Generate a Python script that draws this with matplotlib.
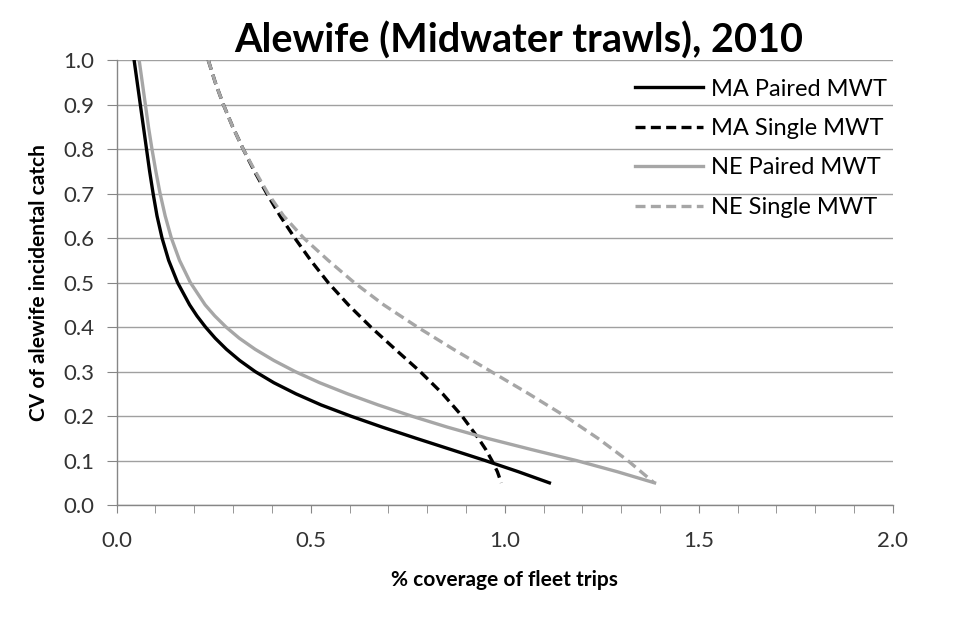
import matplotlib
matplotlib.use('Agg')
import matplotlib.pyplot as plt
from matplotlib.ticker import MultipleLocator, FormatStrFormatter

plt.rcParams['font.family'] = ['Lato', 'DejaVu Sans']

# CV values (y) and the coverage where each curve reaches them (x)
ma_paired_cv = [1.0, 0.95, 0.9, 0.85, 0.8, 0.75, 0.7, 0.65, 0.6, 0.55, 0.5, 0.45, 0.425, 0.4, 0.375,
                0.35, 0.325, 0.3, 0.275, 0.25, 0.225, 0.2, 0.175, 0.15, 0.125, 0.1, 0.075, 0.05]
ma_paired_x = [0.045, 0.053, 0.061, 0.069, 0.077, 0.085, 0.094, 0.104, 0.117, 0.134, 0.157, 0.188, 0.207, 0.229, 0.254,
               0.283, 0.317, 0.357, 0.405, 0.462, 0.527, 0.603, 0.685, 0.772, 0.861, 0.950, 1.035, 1.115]

ne_paired_cv = [1.0, 0.95, 0.9, 0.85, 0.8, 0.75, 0.7, 0.65, 0.6, 0.55, 0.5, 0.45, 0.425, 0.4, 0.375,
                0.35, 0.325, 0.3, 0.275, 0.25, 0.225, 0.2, 0.175, 0.15, 0.125, 0.1, 0.075, 0.05]
ne_paired_x = [0.058, 0.066, 0.074, 0.082, 0.091, 0.101, 0.112, 0.125, 0.141, 0.162, 0.190, 0.228, 0.253, 0.282, 0.316,
               0.357, 0.405, 0.460, 0.523, 0.595, 0.674, 0.760, 0.853, 0.955, 1.068, 1.185, 1.290, 1.386]

ma_single_cv = [1.0, 0.95, 0.9, 0.85, 0.8, 0.75, 0.7, 0.65, 0.6, 0.55, 0.5, 0.45, 0.4, 0.35, 0.3, 0.25, 0.2,
                0.15, 0.125, 0.1, 0.075, 0.05]
ma_single_x = [0.236, 0.254, 0.275, 0.299, 0.326, 0.355, 0.387, 0.421, 0.459, 0.500, 0.545, 0.597, 0.655, 0.718,
               0.782, 0.840, 0.890, 0.932, 0.951, 0.967, 0.981, 0.991]

ne_single_cv = [1.0, 0.95, 0.9, 0.85, 0.8, 0.75, 0.7, 0.65, 0.6, 0.55, 0.5, 0.45, 0.4, 0.35, 0.3, 0.25, 0.2, 0.15, 0.1, 0.05]
ne_single_x = [0.236, 0.254, 0.275, 0.299, 0.326, 0.357, 0.390, 0.430, 0.482, 0.545, 0.612, 0.688, 0.775, 0.868,
               0.965, 1.062, 1.155, 1.240, 1.317, 1.385]

fig = plt.figure(figsize=(9.56, 6.19), dpi=100)
ax = fig.add_axes([0.122, 0.184, 0.812, 0.719])

gray = '#a6a6a6'
dash = (0, (3.0, 1.6))
ax.plot(ma_paired_x, ma_paired_cv, color='black', lw=2.4, label='MA Paired MWT')
ax.plot(ma_single_x, ma_single_cv, color='black', lw=2.4, linestyle=dash, label='MA Single MWT')
ax.plot(ne_paired_x, ne_paired_cv, color=gray, lw=2.4, label='NE Paired MWT')
ax.plot(ne_single_x, ne_single_cv, color=gray, lw=2.4, linestyle=dash, label='NE Single MWT')

ax.set_xlim(0, 2.0)
ax.set_ylim(0, 1.0)
ax.xaxis.set_major_locator(MultipleLocator(0.5))
ax.xaxis.set_minor_locator(MultipleLocator(0.1))
ax.yaxis.set_major_locator(MultipleLocator(0.1))
ax.xaxis.set_major_formatter(FormatStrFormatter('%.1f'))
ax.yaxis.set_major_formatter(FormatStrFormatter('%.1f'))

ax.grid(True, axis='y', color='#a0a0a0', lw=1.0)
ax.set_axisbelow(True)
for s in ['top', 'right']:
    ax.spines[s].set_visible(False)
for s in ['left', 'bottom']:
    ax.spines[s].set_color('#868686')
    ax.spines[s].set_linewidth(1.0)

ax.tick_params(axis='both', which='both', color='#868686', labelcolor='#333333', labelsize=16, direction='out')
ax.tick_params(axis='x', which='both', length=6, pad=13)
ax.tick_params(axis='y', length=7, pad=9)

ax.set_title('Alewife (Midwater trawls), 2010', fontsize=28.5, fontweight='bold', x=0.518, pad=0)
ax.set_xlabel('% coverage of fleet trips', fontsize=15, fontweight='bold', labelpad=13)
ax.set_ylabel('CV of alewife incidental catch', fontsize=15, fontweight='bold', labelpad=10)

ax.legend(loc='upper right', bbox_to_anchor=(1.01, 0.99), frameon=False, fontsize=17,
          handlelength=2.9, handletextpad=0.3, labelspacing=0.78, borderaxespad=0.2)

plt.savefig('out.png', dpi=100)
